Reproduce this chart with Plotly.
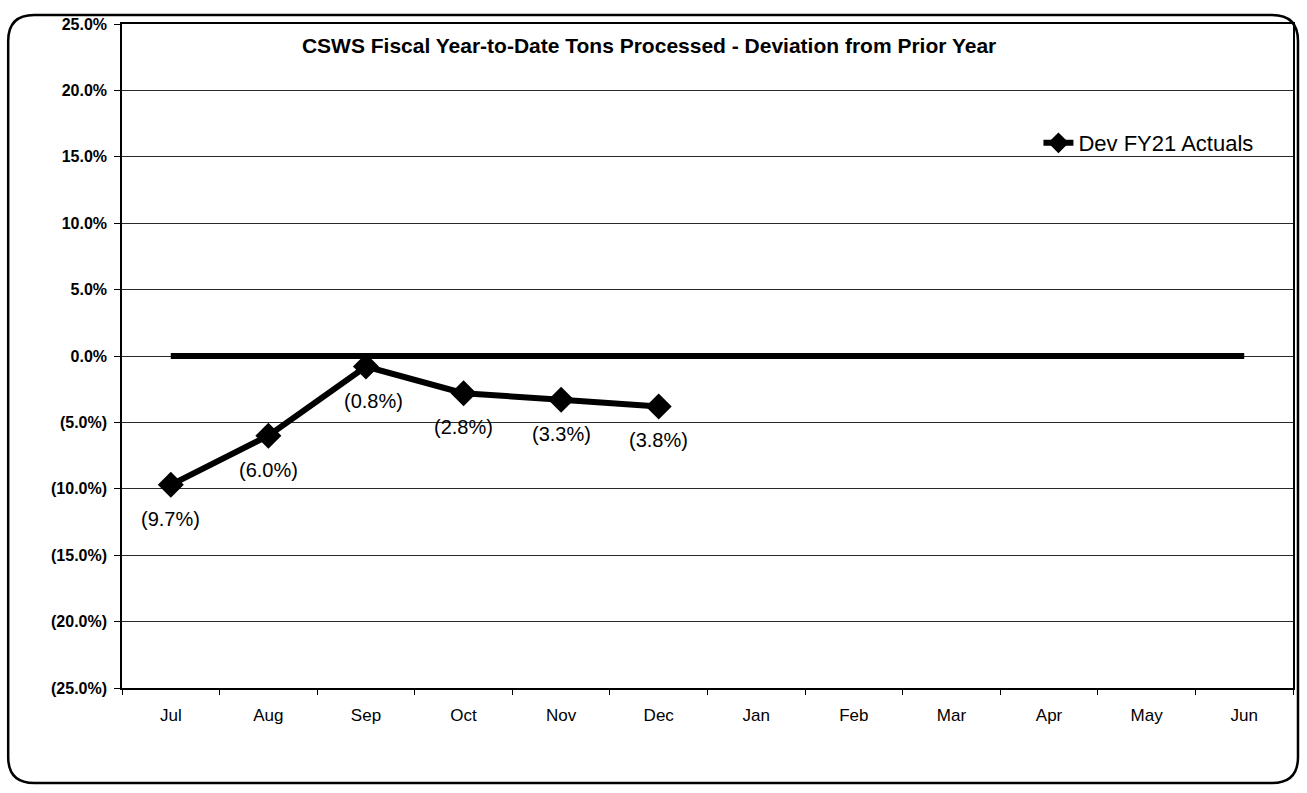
import plotly.graph_objects as go

# Fiscal-year months and year-to-date deviation from prior year (percent)
months = ["Jul", "Aug", "Sep", "Oct", "Nov", "Dec", "Jan", "Feb", "Mar", "Apr", "May", "Jun"]
dev_fy21 = [-9.7, -6.0, -0.8, -2.8, -3.3, -3.8]
baseline = [0.0] * 12
dev_labels = ["(9.7%)", "(6.0%)", "(0.8%)", "(2.8%)", "(3.3%)", "(3.8%)"]
y_tick_vals = [25, 20, 15, 10, 5, 0, -5, -10, -15, -20, -25]
y_tick_text = ["25.0%", "20.0%", "15.0%", "10.0%", "5.0%", "0.0%",
               "(5.0%)", "(10.0%)", "(15.0%)", "(20.0%)", "(25.0%)"]

W, H = 1307, 793
L, R, T, B = 122, 12, 24, 105
pw, ph = W - L - R, H - T - B


def px_to_paper(x, y):
    return (x - L) / pw, (H - B - y) / ph


fig = go.Figure()

fig.add_trace(go.Scatter(
    x=months, y=baseline, mode="lines",
    line=dict(color="black", width=6),
    showlegend=False, hoverinfo="skip",
))

fig.add_trace(go.Scatter(
    x=months[:len(dev_fy21)], y=dev_fy21,
    mode="lines+markers",
    name="Dev FY21 Actuals",
    line=dict(color="black", width=6),
    marker=dict(symbol="diamond", size=20, color="black"),
))

# Value labels beneath each point
for m, v, t in zip(months, dev_fy21, dev_labels):
    fig.add_annotation(
        x=m, y=v, text=t, showarrow=False,
        yshift=-34, xshift=8 if t == "(0.8%)" else 0,
        font=dict(family="Liberation Sans, Arial", size=20, color="black"),
    )

# Rounded outer frame around the whole chart
x0, y0 = px_to_paper(8, 15)
x1, y1 = px_to_paper(1300, 783)
rx, ry = 26 / pw, 26 / ph
path = (f"M {x0 + rx} {y0} L {x1 - rx} {y0} Q {x1} {y0} {x1} {y0 - ry} "
        f"L {x1} {y1 + ry} Q {x1} {y1} {x1 - rx} {y1} "
        f"L {x0 + rx} {y1} Q {x0} {y1} {x0} {y1 + ry} "
        f"L {x0} {y0 - ry} Q {x0} {y0} {x0 + rx} {y0} Z")
fig.add_shape(type="path", path=path, xref="paper", yref="paper",
              line=dict(color="black", width=2.5), layer="below")

lx, ly = px_to_paper(1040, 122)

fig.update_layout(
    width=W, height=H,
    margin=dict(l=L, r=R, t=T, b=B),
    paper_bgcolor="white", plot_bgcolor="white",
    title=dict(
        text="<b>CSWS Fiscal Year-to-Date Tons Processed - Deviation from Prior Year</b>",
        x=(650 - L) / pw, xref="paper", xanchor="center",
        y=(H - 46) / H, yanchor="middle",
        font=dict(family="Liberation Sans, Arial", size=21, color="black"),
    ),
    xaxis=dict(
        type="category", categoryorder="array", categoryarray=months,
        range=[-0.5, 11.5],
        showline=True, linecolor="black", linewidth=1.5, mirror=True,
        ticks="outside", tickson="boundaries", ticklen=5, tickcolor="black",
        showgrid=False,
        ticklabelstandoff=11,
        tickfont=dict(family="Liberation Sans, Arial", size=17, color="black"),
    ),
    yaxis=dict(
        range=[-25, 25], tickvals=y_tick_vals, ticktext=y_tick_text,
        showline=True, linecolor="black", linewidth=1.5, mirror=True,
        ticks="outside", ticklen=6, tickcolor="black",
        showgrid=True, gridcolor="#2a2a2a", gridwidth=1,
        zeroline=False,
        ticklabelstandoff=4,
        tickfont=dict(family="Liberation Sans, Arial", size=16, color="black", weight="bold"),
    ),
    font=dict(family="Liberation Sans, Arial", color="black"),
    showlegend=True,
    legend=dict(
        x=lx, y=ly, xanchor="left", yanchor="top",
        bgcolor="rgba(0,0,0,0)",
        font=dict(family="Liberation Sans, Arial", size=22, color="black"),
        itemwidth=30,
    ),
)

fig.write_html("out.html")
